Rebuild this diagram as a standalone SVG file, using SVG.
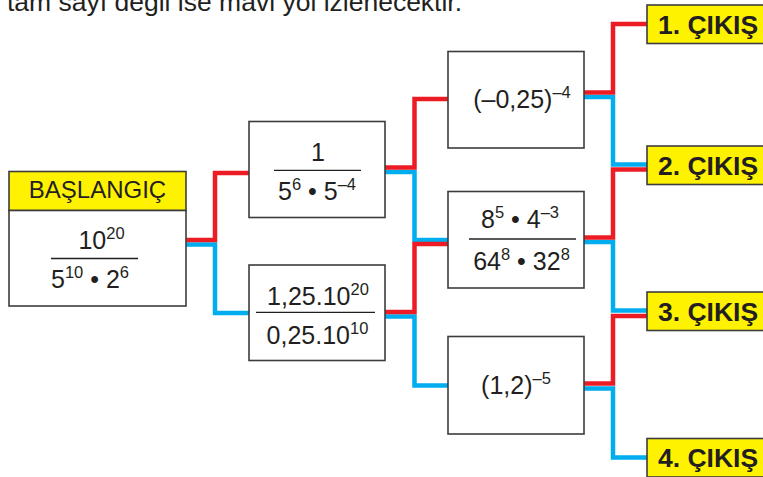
<svg xmlns="http://www.w3.org/2000/svg" width="763" height="477" viewBox="0 0 763 477">
<style>
text { font-family: "Liberation Sans", Arial, sans-serif; fill: #231f20; }
.box { fill: #ffffff; stroke: #3c3c3c; stroke-width: 1.6; }
.hdr { fill: #fff200; stroke: #3c3c3c; stroke-width: 1.6; }
.frac { stroke: #231f20; stroke-width: 1.3; }
.m { font-size: 25px; text-anchor: middle; }
.s { font-size: 16.5px; }
.out { font-size: 26.5px; font-weight: bold; }
.red { fill: none; stroke: #ed1c24; stroke-width: 4.5; stroke-linejoin: miter; stroke-linecap: butt; }
.blue { fill: none; stroke: #00aeef; stroke-width: 4.5; stroke-linejoin: miter; stroke-linecap: butt; }
</style>
<rect width="763" height="477" fill="#ffffff"/>
<text x="7" y="11" font-size="26.5">tam sayı değil ise mavi yol izlenecektir.</text>

<g id="connectors">
  <path class="blue" d="M186,244.5 H215 V313 H249"/>
  <path class="red" d="M186,240 H215 V173 H249"/>
  <path class="blue" d="M385,172 H414.5 V240 H448"/>
  <path class="red" d="M385,167.5 H414.5 V99 H448"/>
  <path class="blue" d="M385,316.5 H414.5 V385.5 H448"/>
  <path class="red" d="M385,312 H414.5 V244 H448"/>
  <path class="blue" d="M584,97 H613 V164.5 H647"/>
  <path class="red" d="M584,92.5 H613 V24 H647"/>
  <path class="blue" d="M584,242 H613 V310.5 H647"/>
  <path class="red" d="M584,237.5 H613 V169.5 H647"/>
  <path class="blue" d="M584,388.5 H613 V457.5 H647"/>
  <path class="red" d="M584,383.5 H613 V316 H647"/>
</g>

<g id="start">
  <rect class="hdr" x="9" y="171.5" width="177" height="39"/>
  <rect class="box" x="9" y="210.5" width="177" height="95.5"/>
  <text x="97.5" y="198" font-size="24" text-anchor="middle">BAŞLANGIÇ</text>
  <text class="m" x="101.5" y="249">10<tspan class="s" dy="-10">20</tspan></text>
  <line class="frac" x1="51" y1="258.5" x2="138" y2="258.5"/>
  <text class="m" x="90" y="288">5<tspan class="s" dy="-10">10</tspan><tspan dy="10"> • 2</tspan><tspan class="s" dy="-10">6</tspan></text>
</g>

<g id="n1">
  <rect class="box" x="249" y="121.5" width="136" height="96"/>
  <text class="m" x="318" y="160.5">1</text>
  <line class="frac" x1="274" y1="170.3" x2="361" y2="170.3"/>
  <text class="m" x="317" y="200">5<tspan class="s" dy="-10">6</tspan><tspan dy="10"> • 5</tspan><tspan class="s" dy="-10">–4</tspan></text>
</g>

<g id="n2">
  <rect class="box" x="249" y="265" width="136" height="95.5"/>
  <text class="m" x="318" y="305">1,25.10<tspan class="s" dy="-10">20</tspan></text>
  <line class="frac" x1="256" y1="312.3" x2="375" y2="312.3"/>
  <text class="m" x="317.5" y="344">0,25.10<tspan class="s" dy="-10">10</tspan></text>
</g>

<g id="n3">
  <rect class="box" x="448" y="51.5" width="136" height="96.5"/>
  <text class="m" x="522" y="108">(–0,25)<tspan class="s" dy="-10">–4</tspan></text>
</g>

<g id="n4">
  <rect class="box" x="448" y="191.5" width="136" height="96.5"/>
  <text class="m" x="520" y="228">8<tspan class="s" dy="-10">5</tspan><tspan dy="10"> • 4</tspan><tspan class="s" dy="-10">–3</tspan></text>
  <line class="frac" x1="469" y1="239" x2="576" y2="239"/>
  <text class="m" x="521.5" y="270">64<tspan class="s" dy="-10">8</tspan><tspan dy="10"> • 32</tspan><tspan class="s" dy="-10">8</tspan></text>
</g>

<g id="n5">
  <rect class="box" x="448" y="336.5" width="136" height="97.5"/>
  <text class="m" x="516" y="394">(1,2)<tspan class="s" dy="-10">–5</tspan></text>
</g>

<g id="out1">
  <rect class="hdr" x="647" y="5" width="120" height="38.5"/>
  <text class="out" x="658" y="33.5">1. ÇIKIŞ</text>
</g>
<g id="out2">
  <rect class="hdr" x="647" y="146" width="120" height="38.5"/>
  <text class="out" x="658" y="175">2. ÇIKIŞ</text>
</g>
<g id="out3">
  <rect class="hdr" x="647" y="292" width="120" height="38.5"/>
  <text class="out" x="658" y="320.5">3. ÇIKIŞ</text>
</g>
<g id="out4">
  <rect class="hdr" x="647" y="438.5" width="120" height="38.5"/>
  <text class="out" x="658" y="467">4. ÇIKIŞ</text>
</g>
</svg>
